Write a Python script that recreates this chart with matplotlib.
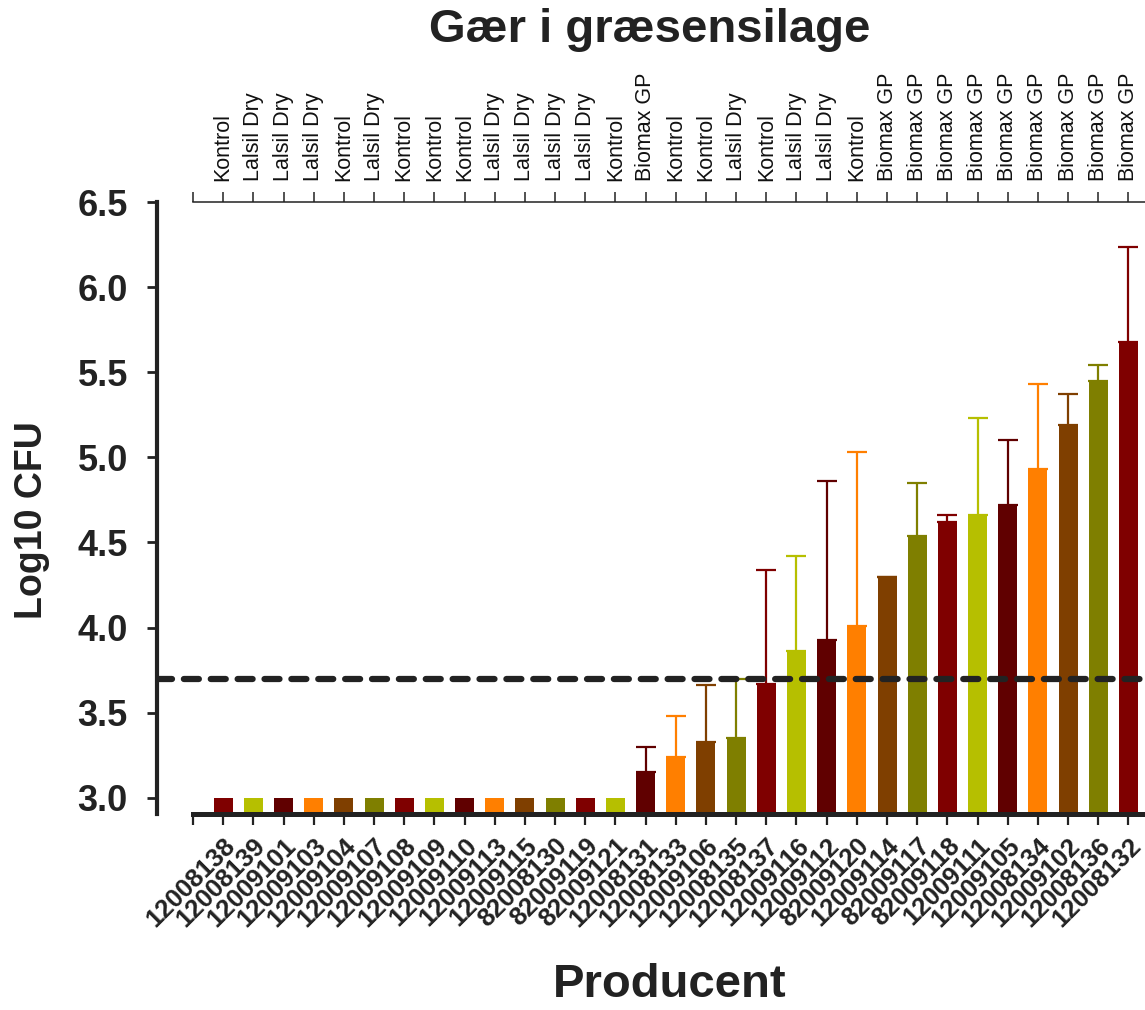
import numpy as np
import matplotlib
matplotlib.use("Agg")
import matplotlib.pyplot as plt

plt.rcParams['font.family'] = ['Liberation Sans', 'DejaVu Sans']

# Data

producers = ["12008138", "12008139", "12009101", "12009103", "12009104", "12009107",
             "12009108", "12009109", "12009110", "12009113", "12009115", "82008130",
             "82009119", "82009121", "12008131", "12008133", "12009106", "12008135",
             "12008137", "12009116", "12009112", "82009120", "12009114", "82009117",
             "82009118", "12009111", "12009105", "12008134", "12009102", "12008136",
             "12008132"]
treatments = ["Kontrol", "Lalsil Dry", "Lalsil Dry", "Lalsil Dry", "Kontrol", "Lalsil Dry",
              "Kontrol", "Kontrol", "Kontrol", "Lalsil Dry", "Lalsil Dry", "Lalsil Dry",
              "Lalsil Dry", "Kontrol", "Biomax GP", "Kontrol", "Kontrol", "Lalsil Dry",
              "Kontrol", "Lalsil Dry", "Lalsil Dry", "Kontrol", "Biomax GP", "Biomax GP",
              "Biomax GP", "Biomax GP", "Biomax GP", "Biomax GP", "Biomax GP", "Biomax GP",
              "Biomax GP"]
log_cfu = [3.0, 3.0, 3.0, 3.0, 3.0, 3.0, 3.0, 3.0, 3.0, 3.0, 3.0, 3.0, 3.0, 3.0,
           3.15, 3.24, 3.33, 3.35, 3.67, 3.86, 3.93, 4.01, 4.30, 4.54, 4.62, 4.66,
           4.72, 4.93, 5.19, 5.45, 5.68]
sd = [0, 0, 0, 0, 0, 0, 0, 0, 0, 0, 0, 0, 0, 0,
      0.15, 0.24, 0.33, 0.35, 0.67, 0.56, 0.93, 1.02, 0.0, 0.31, 0.04, 0.57,
      0.38, 0.50, 0.18, 0.09, 0.555]
threshold = 3.7

palette = ["#7f0000", "#b6bf00", "#600000", "#ff7f00", "#7f3f00", "#7f7f00"]

y_min, y_max = 2.905, 6.5

fig = plt.figure(figsize=(11.45, 10.10), dpi=100)
ax = fig.add_axes([157/1145, 196/1010, 988/1145, 612/1010])

x = np.arange(1, len(producers) + 1)
colors = [palette[i % len(palette)] for i in range(len(producers))]
vals = np.array(log_cfu)

ax.bar(x, vals - y_min, bottom=y_min, width=0.63, color=colors, zorder=2)
for xi, v, e, c in zip(x, vals, sd, colors):
    if xi < 15:
        continue
    ax.errorbar(xi, v, yerr=[[0], [e]], color=c, elinewidth=1.6,
                capsize=7, capthick=1.6, zorder=1)

ax.axhline(threshold, color='#222222', linewidth=4.5,
           linestyle=(0, (2.4, 1.9)), dash_capstyle='round', zorder=3)

ax.set_xlim(-1.193, 31.55)
ax.set_ylim(y_min, y_max)

# spines
ax.spines['right'].set_visible(False)
ax.spines['left'].set_linewidth(3)
ax.spines['left'].set_color('#222222')
ax.spines['bottom'].set_linewidth(3.6)
ax.spines['bottom'].set_color('#222222')
ax.spines['bottom'].set_bounds(0, 31.55)
ax.spines['top'].set_linewidth(1.1)
ax.spines['top'].set_color('#222222')
ax.spines['top'].set_bounds(0, 31.55)

# y axis
ax.set_yticks(np.arange(3.0, 6.51, 0.5))
ax.set_yticklabels(["%.1f" % t for t in np.arange(3.0, 6.51, 0.5)],
                   fontsize=26, fontweight='bold', color='#222222')
ax.tick_params(axis='y', length=7, width=2, color='#222222', pad=14)

# bottom axis
ax.set_xticks(np.arange(0, len(producers) + 1))
ax.set_xticklabels([""] + producers, rotation=45, ha='right', rotation_mode='anchor',
                   fontsize=18.5, fontweight='bold', color='#222222')
ax.tick_params(axis='x', length=8, width=1.6, color='#222222', pad=6)

# top axis with treatments
ax2 = ax.secondary_xaxis('top')
ax2.set_xticks(np.arange(0, len(producers) + 1))
ax2.set_xticklabels([""] + treatments, rotation=90, fontsize=15.5, color='#111111')
ax2.tick_params(axis='x', length=7, width=1.1, color='#222222', pad=8)
ax2.spines['top'].set_visible(False)

fig.text(650/1145, 1 - 30/1010, "Gær i græsensilage", ha='center', va='center',
         fontsize=34, fontweight='bold', color='#222222')
fig.text(670/1145, 1 - 985/1010, "Producent", ha='center', va='center',
         fontsize=34, fontweight='bold', color='#222222')
fig.text(32/1145, 1 - 520/1010, "Log10 CFU", ha='center', va='center', rotation=90,
         fontsize=27, fontweight='bold', color='#222222')

fig.savefig("out.png", dpi=100)
